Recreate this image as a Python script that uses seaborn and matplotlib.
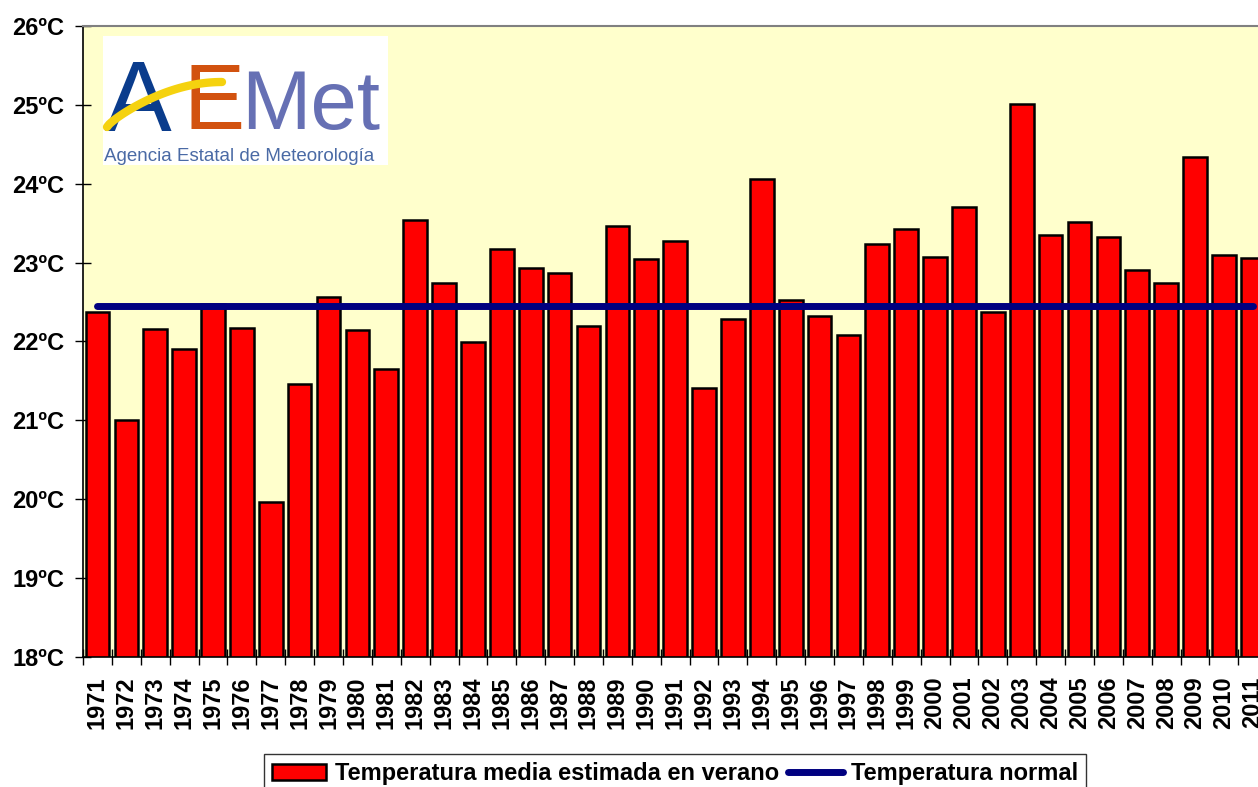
import numpy as np
import pandas as pd
import seaborn as sns
import matplotlib.pyplot as plt
from matplotlib.patches import Rectangle
from matplotlib.ticker import FixedLocator

years = [str(y) for y in range(1971, 2012)]
temp_verano = [22.38, 21.01, 22.16, 21.91, 22.47, 22.17, 19.96, 21.46, 22.57, 22.14,
               21.65, 23.54, 22.74, 21.99, 23.17, 22.93, 22.87, 22.19, 23.47, 23.05,
               23.28, 21.41, 22.29, 24.06, 22.53, 22.32, 22.08, 23.23, 23.42, 23.07,
               23.71, 22.38, 25.01, 23.35, 23.51, 23.32, 22.90, 22.74, 24.34, 23.10,
               23.06]
temp_normal = 22.45
y_ticks = [18, 19, 20, 21, 22, 23, 24, 25, 26]
y_labels = [f"{t}ºC" for t in y_ticks]

sns.set_style("white")
plt.rcParams["font.family"] = ["Liberation Sans", "DejaVu Sans"]
plt.rcParams["text.color"] = "black"
plt.rcParams["xtick.color"] = "black"
plt.rcParams["ytick.color"] = "black"

df = pd.DataFrame({"year": years, "temp": temp_verano})

fig = plt.figure(figsize=(12.58, 7.87), dpi=100)
ax = fig.add_axes([0.066, 0.1652, 0.934, 0.8018])
ax.set_facecolor("#FFFFCC")

sns.barplot(data=df, x="year", y="temp", color="#FF0000", saturation=1,
            width=0.82, edgecolor="black", linewidth=1.8, ax=ax,
            label="Temperatura media estimada en verano", zorder=2)
sns.lineplot(x=np.arange(len(years)), y=[temp_normal] * len(years), color="#000080",
             linewidth=5, solid_capstyle="round", ax=ax, label="Temperatura normal",
             zorder=3)

ax.set_ylim(18, 26)
ax.set_xlim(-0.5, 40.18)
ax.set_yticks(y_ticks)
ax.set_yticklabels(y_labels, fontsize=17, fontweight="bold")
ax.tick_params(axis="y", direction="inout", length=11, width=1, pad=8, left=True)

ax.set_xticks(range(len(years)))
ax.set_xticklabels(years, rotation=90, fontsize=17, fontweight="bold")
ax.xaxis.set_minor_locator(FixedLocator(np.arange(-0.5, len(years), 1)))
ax.tick_params(axis="x", which="major", length=0, pad=14)
ax.tick_params(axis="x", which="minor", direction="inout", length=12, width=1, bottom=True)
ax.set_xlabel("")
ax.set_ylabel("")

ax.spines["top"].set_color("#808080")
ax.spines["top"].set_linewidth(1.5)
ax.spines["right"].set_visible(False)
ax.spines["left"].set_color("black")
ax.spines["bottom"].set_color("black")
ax.spines["left"].set_linewidth(1.2)
ax.spines["bottom"].set_linewidth(1.2)

handles, labels = ax.get_legend_handles_labels()
order = [labels.index("Temperatura media estimada en verano"), labels.index("Temperatura normal")]
leg = ax.legend([handles[i] for i in order], [labels[i] for i in order],
                loc="upper center", bbox_to_anchor=(0.5366, 0.042),
                bbox_transform=fig.transFigure, ncol=2, frameon=True, fancybox=False,
                prop={"size": 17, "weight": "bold"}, handlelength=2.3, handleheight=0.65,
                handletextpad=0.35, columnspacing=0.4, borderpad=0.35, borderaxespad=0)
leg.get_frame().set_edgecolor("black")
leg.get_frame().set_linewidth(1)

# logo AEMET
fig.patches.append(Rectangle((0.0819, 0.790), 0.2265, 0.164, transform=fig.transFigure,
                             facecolor="white", edgecolor="none", zorder=5))
fig.text(0.083, 0.833, "A", fontsize=72, color="#0A3C8C", zorder=6)
fig.text(0.146, 0.836, "E", fontsize=66, color="#D2520F", zorder=6)
fig.text(0.192, 0.836, "Met", fontsize=60, color="#6670B4", zorder=6)
t = np.linspace(0, 1, 50)
fig.lines.append(plt.Line2D((107 + 115 * t) / 1258, 1 - (127 - 45 * np.sin(t * np.pi / 2) ** 0.8) / 787,
                            transform=fig.transFigure, color="#F5D20F", linewidth=6,
                            solid_capstyle="round", zorder=7))
fig.text(0.0825, 0.795, "Agencia Estatal de Meteorología", fontsize=13.5,
         color="#4A6AA5", zorder=6)

fig.savefig("out.png", dpi=100)
